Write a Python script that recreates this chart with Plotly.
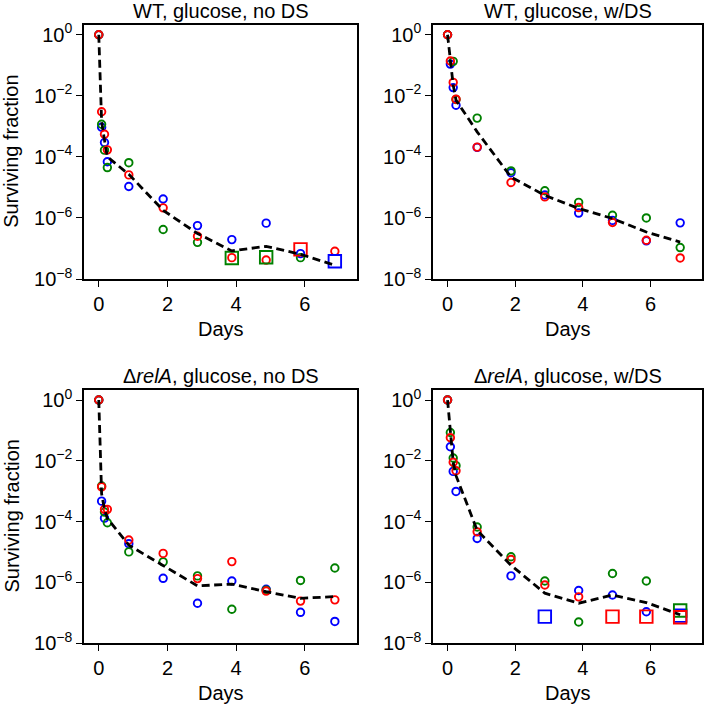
"""
=========================================================
SURVIVING FRACTION - 4 PANELS
=========================================================
"""

import plotly.graph_objects as go
from plotly.subplots import make_subplots

"""
=========================================================
DATA  (log10 of surviving fraction, read off the figure)
=========================================================
"""

N = None

DAYS = [0, 0.083, 0.167, 0.25, 0.875, 1.875, 2.875, 3.875, 4.875, 5.875, 6.875]

# WT, glucose, no DS
wt_nods_red = [0, -2.52, -3.26, -3.77, -4.59, -5.67, -6.60, -7.30, -7.38, N, -7.09]
wt_nods_green = [0, -2.93, -3.78, -4.35, -4.19, -6.38, -6.80, N, N, -7.30, N]
wt_nods_blue = [0, -3.03, -3.53, -4.16, -4.97, -5.38, -6.25, -6.71, -6.17, -7.17, N]
wt_nods_red_sq = [N, N, N, N, N, N, N, N, N, -7.03, N]
wt_nods_green_sq = [N, N, N, N, N, N, N, -7.31, -7.29, N, N]
wt_nods_blue_sq = [N, N, N, N, N, N, N, N, N, N, -7.42]
wt_nods_mean = [0, -2.85, -3.45, -4.00, -4.57, -5.75, -6.51, -7.08, -6.93, -7.19, -7.55]

# WT, glucose, w/DS
wt_ds_red = [0, -0.86, -1.56, -2.11, -3.68, -4.84, -5.31, -5.66, -6.15, -6.73, -7.31]
wt_ds_green = [0, N, -0.87, -2.12, -2.73, -4.46, -5.11, -5.49, -5.91, -6.00, -6.97]
wt_ds_blue = [0, -0.96, -1.73, -2.31, -3.69, -4.52, -5.25, -5.84, -6.08, -6.75, -6.16]
wt_ds_mean = [0, -0.94, -1.65, -2.14, -3.18, -4.66, -5.26, -5.69, -6.02, -6.46, -6.79]

# relA, glucose, no DS
rel_nods_red = [0, -2.86, -3.60, -3.60, -4.61, -5.05, -5.88, -5.32, -6.29, -6.62, -6.58]
rel_nods_green = [0, -2.83, -3.69, -4.04, -5.00, -5.33, -5.79, -6.89, -6.26, -5.94, -5.53]
rel_nods_blue = [0, -3.33, -3.89, N, -4.73, -5.87, -6.69, -5.96, -6.23, -6.99, -7.29]
rel_nods_mean = [0, -3.09, -3.60, -3.90, -4.78, -5.44, -6.12, -6.06, -6.31, -6.53, -6.47]

# relA, glucose, w/DS
rel_ds_red = [0, -1.24, -2.05, -2.33, -4.34, -5.25, -6.09, -6.48, N, N, N]
rel_ds_green = [0, -1.07, -1.91, -2.16, -4.18, -5.16, -5.96, -7.31, -5.71, -5.96, N]
rel_ds_blue = [0, -1.54, -2.35, -3.01, -4.56, -5.79, N, -6.27, -6.42, -6.97, N]
rel_ds_red_sq = [N, N, N, N, N, N, N, N, -7.13, -7.13, -7.15]
rel_ds_green_sq = [N, N, N, N, N, N, N, N, N, N, -6.93]
rel_ds_blue_sq = [N, N, N, N, N, N, -7.13, N, N, N, -7.10]
rel_ds_mean = [0, -1.12, -2.05, -2.49, -4.29, -5.44, -6.36, -6.69, -6.42, -6.67, -7.07]

TITLES = [
    "WT, glucose, no DS",
    "WT, glucose, w/DS",
    "\u0394<i>relA</i>, glucose, no DS",
    "\u0394<i>relA</i>, glucose, w/DS",
]

Y_TICKS = [-8, -6, -4, -2, 0]
X_TICKS = [0, 2, 4, 6]

COLORS = {"red": "#ff0000", "green": "#008000", "blue": "#0000ff"}

FONT = "Liberation Sans, Arial, sans-serif"

"""
=========================================================
HELPERS
=========================================================
"""

def to_frac(values):

    return [None if v is None else 10 ** v for v in values]


def add_points(fig, values, color, symbol, size, row, col):

    fig.add_trace(

        go.Scatter(

            x=DAYS,

            y=to_frac(values),

            mode="markers",

            marker=dict(
                symbol=symbol,
                size=size,
                color="rgba(0,0,0,0)",
                line=dict(color=COLORS[color], width=1.9)
            ),

            showlegend=False

        ),

        row=row, col=col

    )


def add_mean(fig, values, row, col):

    fig.add_trace(

        go.Scatter(

            x=DAYS,

            y=to_frac(values),

            mode="lines",

            line=dict(color="black", width=2.8, dash="8px,4.5px"),

            showlegend=False

        ),

        row=row, col=col

    )

"""
=========================================================
FIGURE
=========================================================
"""

fig = make_subplots(rows=2, cols=2)

panels = [
    (1, 1, [wt_nods_blue, wt_nods_green, wt_nods_red],
     [wt_nods_green_sq, wt_nods_red_sq, wt_nods_blue_sq], wt_nods_mean),
    (1, 2, [wt_ds_blue, wt_ds_green, wt_ds_red], [], wt_ds_mean),
    (2, 1, [rel_nods_blue, rel_nods_green, rel_nods_red], [], rel_nods_mean),
    (2, 2, [rel_ds_blue, rel_ds_green, rel_ds_red],
     [rel_ds_blue_sq, rel_ds_green_sq, rel_ds_red_sq], rel_ds_mean),
]

square_colors = {
    (1, 1): ["green", "red", "blue"],
    (2, 2): ["blue", "green", "red"],
}

for row, col, circles, squares, mean in panels:

    for values, color in zip(circles, ["blue", "green", "red"]):
        add_points(fig, values, color, "circle", 7.5, row, col)

    for values, color in zip(squares, square_colors.get((row, col), [])):
        add_points(fig, values, color, "square", 12.5, row, col)

    add_mean(fig, mean, row, col)

"""
=========================================================
AXES
=========================================================
"""

W, H = 707, 705

x_dom = [(84 / W, 357 / W), (433 / W, 702 / W)]
y_dom = [(1 - 279 / H, 1 - 24.7 / H), (1 - 643 / H, 1 - 390 / H)]

axis_style = dict(
    showline=True,
    mirror=True,
    linecolor="black",
    linewidth=1.5,
    ticks="outside",
    ticklen=6,
    tickwidth=1.3,
    tickcolor="black",
    showgrid=False,
    zeroline=False,
    automargin=False,
    tickfont=dict(family=FONT, size=20, color="black"),
)

for row in [1, 2]:
    for col in [1, 2]:

        fig.update_xaxes(
            domain=x_dom[col - 1],
            range=[-0.43, 7.52],
            tickvals=X_TICKS,
            ticktext=[str(t) for t in X_TICKS],
            **axis_style,
            row=row, col=col
        )

        fig.update_yaxes(
            domain=y_dom[row - 1],
            type="log",
            range=[-8, 0.33],
            tickvals=[10.0 ** t for t in Y_TICKS],
            ticktext=["10<sup>%s</sup>" % str(t).replace("-", "\u2212") for t in Y_TICKS],
            **axis_style,
            row=row, col=col
        )

"""
=========================================================
TEXT
=========================================================
"""

annotations = []

for i, title in enumerate(TITLES):

    row, col = i // 2, i % 2
    xc = sum(x_dom[col]) / 2

    annotations.append(dict(
        text=title, x=xc, y=y_dom[row][1], xref="paper", yref="paper",
        xanchor="center", yanchor="bottom", yshift=1, showarrow=False,
        font=dict(family=FONT, size=20, color="black")
    ))

    annotations.append(dict(
        text="Days", x=xc, y=y_dom[row][0], xref="paper", yref="paper",
        xanchor="center", yanchor="top", yshift=-37, showarrow=False,
        font=dict(family=FONT, size=20, color="black")
    ))

for row in [0, 1]:

    annotations.append(dict(
        text="Surviving fraction", x=11 / W, y=sum(y_dom[row]) / 2,
        xref="paper", yref="paper", xanchor="center", yanchor="middle",
        textangle=-90, showarrow=False,
        font=dict(family=FONT, size=20, color="black")
    ))

fig.update_layout(

    template="none",

    width=W,

    height=H,

    margin=dict(l=0, r=0, t=0, b=0),

    paper_bgcolor="white",

    plot_bgcolor="white",

    annotations=annotations,

    font=dict(family=FONT, size=20, color="black")

)

# the page body has a default 8px margin; drop it so the figure sits at 0,0
fig.write_html(
    "out.html",
    config={"displayModeBar": False},
    post_script="document.body.style.margin = '0';"
)
